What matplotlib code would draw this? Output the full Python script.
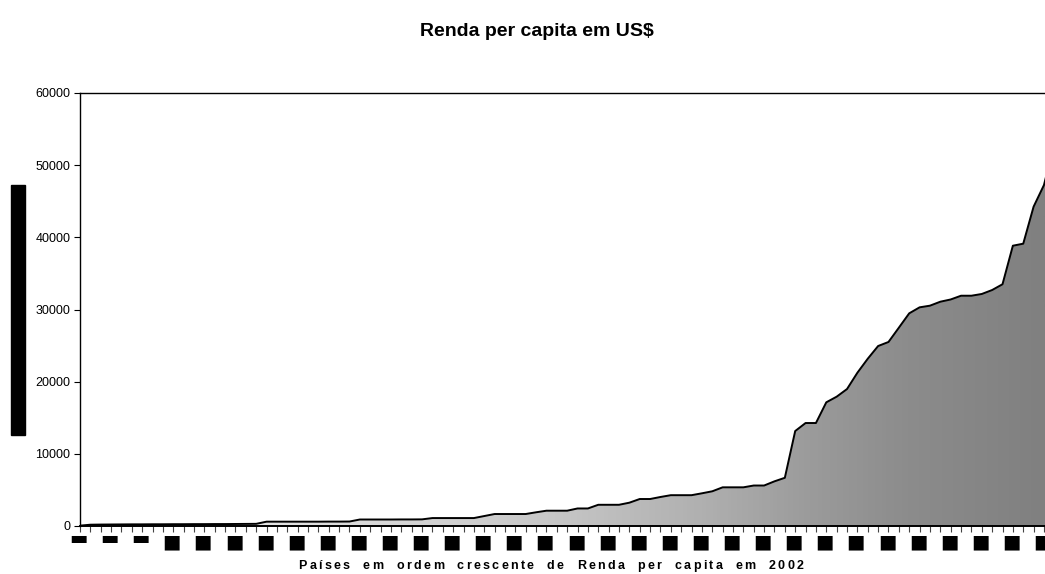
import matplotlib
matplotlib.use("Agg")
import matplotlib.pyplot as plt
import matplotlib.transforms as mtransforms
import numpy as np
from matplotlib.colors import LinearSegmentedColormap

# renda per capita (US$) dos países, em ordem crescente (2002)
renda = [50, 180, 200, 210, 220, 230, 230, 240, 240, 250, 250, 260, 260, 270, 270, 280, 290, 300,
         600, 600, 600, 600, 600, 600, 610, 610, 620,
         900, 900, 900, 900, 910, 910, 920,
         1100, 1100, 1100, 1100, 1100,
         1380,
         1660, 1660, 1660, 1660,
         1900,
         2120, 2120, 2120,
         2430, 2430,
         2940, 2940, 2940,
         3230,
         3740, 3740,
         4020,
         4270, 4270, 4270,
         4530,
         4810,
         5360, 5360, 5360,
         5610, 5610,
         6190,
         6680,
         13160, 14270, 14270, 17140, 17920, 18980, 21240, 23180, 24940, 25500,
         27480, 29470, 30300, 30530, 31080, 31390, 31910, 31910, 32150, 32700,
         33500, 38840, 39120, 44250, 47250, 53000]
paises = np.arange(len(renda))

# rótulos do eixo x (um a cada três países)
rotulos_x = ["\u25ac"] * 3 + ["\u25a0"] * 29
yticks = [0, 10000, 20000, 30000, 40000, 50000, 60000]

FONTE = "Liberation Sans"

fig = plt.figure(figsize=(10.45, 5.74), dpi=100)
ax = fig.add_axes([80 / 1045, 48 / 574, 965 / 1045, 433 / 574])

xmax = 93.1
ax.set_xlim(0, xmax)
ax.set_ylim(0, 60000)

# preenchimento em degradê horizontal, recortado pela área
niveis = [(0.0, 250), (23 / xmax, 222), (46 / xmax, 198), (60 / xmax, 176),
          (70 / xmax, 156), (80 / xmax, 140), (1.0, 128)]
cmap = LinearSegmentedColormap.from_list(
    "cinza", [(p, (g / 255, g / 255, g / 255)) for p, g in niveis])
area = ax.fill_between(paises, renda, 0, color="none", lw=0)
grad = np.linspace(0, 1, 600).reshape(1, -1)
im = ax.imshow(grad, extent=[0, xmax, 0, 60000], aspect="auto", cmap=cmap,
               origin="lower", zorder=1)
im.set_clip_path(area.get_paths()[0], transform=ax.transData)
ax.plot(paises, renda, color="black", lw=1.4, zorder=3, solid_joinstyle="round")

ax.spines["right"].set_visible(False)
ax.spines["left"].set_linewidth(1.0)
ax.spines["top"].set_linewidth(1.0)
ax.spines["bottom"].set_linewidth(1.4)

ax.set_yticks(yticks)
ax.set_yticklabels([str(v) for v in yticks], fontsize=9, family=FONTE)
ax.tick_params(axis="y", length=4, width=0.8, pad=3)

ax.set_xticks(np.arange(0, 94))
ax.set_xticklabels([rotulos_x[i // 3] if i % 3 == 0 else "" for i in range(94)],
                   fontsize=14, family="DejaVu Sans")
ax.tick_params(axis="x", length=4, width=0.8, pad=1, color="#444444")
for i, lab in enumerate(ax.get_xticklabels()):
    dy = 3.5 if rotulos_x[min(i // 3, 31)] == "\u25ac" else 0
    lab.set_transform(lab.get_transform() +
                      mtransforms.ScaledTranslation(-1.5 / 100, dy / 100, fig.dpi_scale_trans))

fig.text(537 / 1045, 1 - 32 / 574, "Renda per capita em US$", ha="center",
         va="center", fontsize=14, fontweight="bold", family=FONTE)

# rótulo do eixo y (bloco preto)
fig.text(18 / 1045, 1 - 310 / 574, "Renda per capita em dólares americanos (US$)",
         rotation=90, ha="center", va="center", fontsize=8.5, color="black",
         family=FONTE,
         bbox=dict(boxstyle="square,pad=0.05", facecolor="black", edgecolor="black"))


def texto_espacado(s, xc, y, largura, **kw):
    # escreve o texto letra por letra com espaçamento extra
    r = fig.canvas.get_renderer()
    larguras = []
    for ch in s:
        if ch == " ":
            larguras.append(None)
            continue
        t = fig.text(0, 0, ch, **kw)
        larguras.append(t.get_window_extent(r).width)
        t.remove()
    esp = np.mean([w for w in larguras if w]) * 1.2
    larguras = [w if w is not None else esp for w in larguras]
    folga = (largura - sum(larguras)) / (len(s) - 1)
    x = xc - largura / 2
    for ch, w in zip(s, larguras):
        if ch != " ":
            fig.text(x / 1045, y, ch, ha="left", va="center", **kw)
        x += w + folga


texto_espacado("Países em ordem crescente de Renda per capita em 2002",
               551, 1 - 566 / 574, 505, fontsize=9, fontweight="bold", family=FONTE)

fig.savefig("out.png", dpi=100)
